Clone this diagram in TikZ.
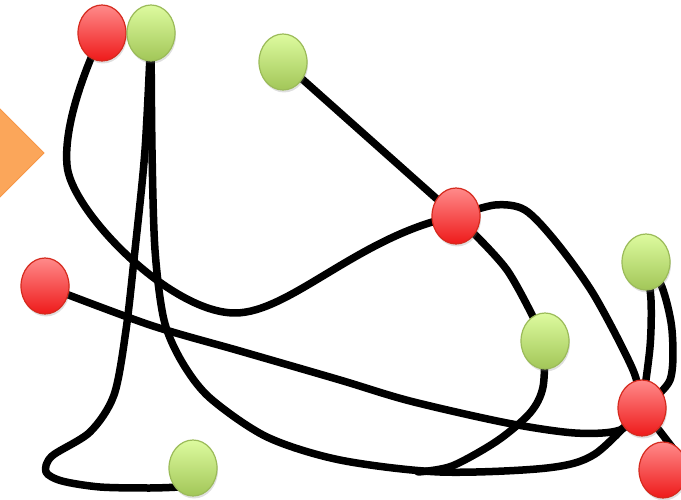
\documentclass[tikz,border=0pt]{standalone}
\usetikzlibrary{shapes.geometric,shadows,backgrounds}
\definecolor{redtop}{HTML}{FF8A8A}
\definecolor{redbot}{HTML}{EE1A1A}
\definecolor{redline}{HTML}{D52A1E}
\definecolor{grntop}{HTML}{DDFB9F}
\definecolor{grnbot}{HTML}{A2C658}
\definecolor{grnline}{HTML}{9BBB59}
\definecolor{orgfill}{HTML}{FBA65A}
\definecolor{orgline}{HTML}{F79646}
\tikzset{
  dot/.style={ellipse, minimum width=48pt, minimum height=56pt, inner sep=0pt, line width=1.2pt,
    drop shadow={opacity=0.25, shadow xshift=1pt, shadow yshift=-2.5pt}},
  reddot/.style={dot, draw=redline, top color=redtop, bottom color=redbot},
  grndot/.style={dot, draw=grnline, top color=grntop, bottom color=grnbot},
  wire/.style={line width=7.5pt, black, line cap=round, line join=round},
}
\begin{document}
\begin{tikzpicture}[x=1pt,y=-1pt]
\useasboundingbox (0,0) rectangle (681,500);
\clip (0,0) rectangle (681,500);
% diamond
\fill[orgfill, draw=orgline, line width=1pt] (44,153) -- (-2,107) -- (-48,153) -- (-2,199) -- cycle;
% nodes
\node[reddot] (R1) at (102,33) {};
\node[grndot] (G1) at (151,33) {};
\node[grndot] (G2) at (283,62) {};
\node[reddot] (R2) at (456,216) {};
\node[grndot] (G3) at (646,262) {};
\node[reddot] (R3) at (45,286) {};
\node[grndot] (G4) at (545,341) {};
\node[reddot] (R4) at (642,408) {};
\node[reddot] (R5) at (663,470) {};
\node[grndot] (G5) at (193,468) {};
\coordinate (J) at (418,472);
\coordinate (G5in) at (180,487);
\coordinate (off) at (705,490);
\begin{pgfonlayer}{background}
\draw[wire] (G2) -- (R2);
\draw[wire] (R1.center) .. controls (80,80) and (64,130) .. (67,165)
  .. controls (70,210) and (170,313) .. (235,313)
  .. controls (290,313) and (360,235) .. (R2.center);
\draw[wire] plot[smooth] coordinates {(G1) (145,150) (135,250) (126,330) (114,395) (90,432) (52,456) (46,472) (62,481) (100,487) (150,488) (G5in)};
\draw[wire] plot[smooth] coordinates {(G1) (152,150) (155,250) (164,320) (182,362) (210,398) (267,437) (340,460) (440,472) (547,468) (595,454) (R4)};
\draw[wire] plot[smooth] coordinates {(G4) (543,387) (530,413) (497,441) (452,466) (J)};
\draw[wire] plot[smooth] coordinates {(R3) (150,325) (240,351) (340,380) (410,401) (507,423) (575,433) (620,430) (R4)};
\draw[wire] plot[smooth] coordinates {(R2) (507,270) (G4)};
\draw[wire] plot[smooth] coordinates {(R2) (495,205) (525,210) (556,242) (594,295) (633,370) (R4)};
\draw[wire] plot[smooth] coordinates {(G3) (651,300) (650,347) (R4)};
\draw[wire] plot[smooth] coordinates {(G3) (662,287) (672,330) (670,380) (R4)};
\draw[wire] (R4) -- (off);
\end{pgfonlayer}
\end{tikzpicture}
\end{document}
